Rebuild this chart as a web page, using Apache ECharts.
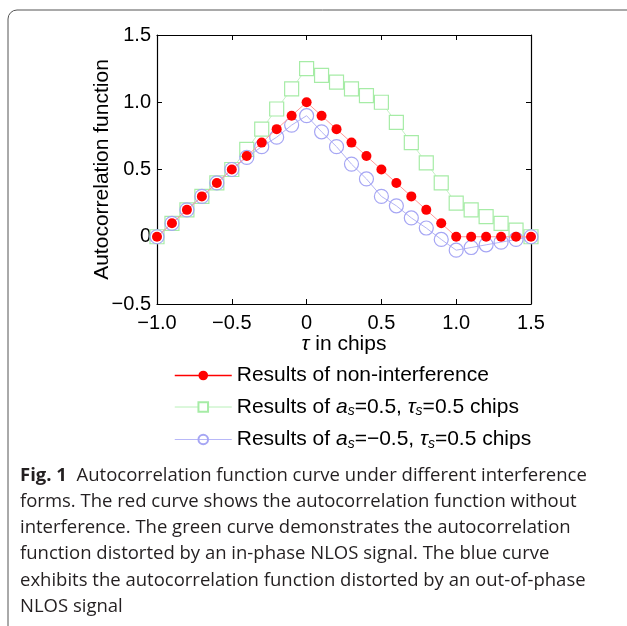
<!DOCTYPE html>
<html>
<head>
<meta charset="utf-8">
<script src="https://cdn.jsdelivr.net/npm/echarts@6/dist/echarts.min.js"></script>
<style>
  html, body { margin: 0; padding: 0; background: #fff; }
  #chart { width: 627px; height: 626px; }
</style>
</head>
<body>
<div id="chart"></div>
<script>
// Delay tau (chips), sampled every 0.1 chip
const tau = [-1.0, -0.9, -0.8, -0.7, -0.6, -0.5, -0.4, -0.3, -0.2, -0.1, 0.0,
             0.1, 0.2, 0.3, 0.4, 0.5, 0.6, 0.7, 0.8, 0.9, 1.0, 1.1, 1.2, 1.3, 1.4, 1.5];

// Autocorrelation without interference
const noInterference = [0, 0.1, 0.2, 0.3, 0.4, 0.5, 0.6, 0.7, 0.8, 0.9, 1.0,
                        0.9, 0.8, 0.7, 0.6, 0.5, 0.4, 0.3, 0.2, 0.1, 0, 0, 0, 0, 0, 0];

// In-phase NLOS (a_s = 0.5, tau_s = 0.5 chips)
const inPhase = [0, 0.1, 0.2, 0.3, 0.4, 0.5, 0.65, 0.8, 0.95, 1.1, 1.25,
                 1.2, 1.15, 1.1, 1.05, 1.0, 0.85, 0.7, 0.55, 0.4, 0.25, 0.2, 0.15, 0.1, 0.05, 0];

// Out-of-phase NLOS (a_s = -0.5, tau_s = 0.5 chips)
const outOfPhase = [0, 0.1, 0.2, 0.3, 0.4, 0.5, 0.59, 0.67, 0.74, 0.83, 0.9,
                    0.78, 0.67, 0.54, 0.43, 0.3, 0.23, 0.14, 0.065, -0.02, -0.1, -0.08, -0.06, -0.04, -0.02, 0];

const xTicks = [-1.0, -0.5, 0, 0.5, 1.0, 1.5];
const yTicks = [-0.5, 0, 0.5, 1.0, 1.5];

const seriesNames = ['Results of non-interference', 'Results of a_s=0.5', 'Results of a_s=-0.5'];

const captionLines = [
  '{b|Fig. 1}  Autocorrelation function curve under different interference',
  'forms. The red curve shows the autocorrelation function without',
  'interference. The green curve demonstrates the autocorrelation',
  'function distorted by an in-phase NLOS signal. The blue curve',
  'exhibits the autocorrelation function distorted by an out-of-phase',
  'NLOS signal'
];

const pair = (ys) => tau.map((t, i) => [t, ys[i]]);
const fmtTick = (v) => {
  if (Math.abs(v) < 1e-9) return '0';
  const s = Math.abs(v).toFixed(1);
  return v < 0 ? '\u2212' + s : s;
};

const plotFont = 'Liberation Sans, Arial, sans-serif';
const capFont = 'Open Sans, Noto Sans, sans-serif';
const capSize = 18.5;

const chart = echarts.init(document.getElementById('chart'), null, { renderer: 'canvas' });

const grid = { left: 157, top: 35, width: 374, height: 269 };

const axisCommon = {
  type: 'value',
  splitLine: { show: false },
  axisLine: { show: true, onZero: false, lineStyle: { color: '#000', width: 1.2 } },
  axisTick: { show: true, inside: true, length: 5, lineStyle: { color: '#000' } }
};

const legendLabel = {
  'Results of non-interference': 'Results of non-interference',
  'Results of a_s=0.5': 'Results of {i|a}{s|s}=0.5, {i|\u03c4}{s|s}=0.5 chips',
  'Results of a_s=-0.5': 'Results of {i|a}{s|s}=\u22120.5, {i|\u03c4}{s|s}=0.5 chips'
};

const captionGraphics = captionLines.map((line, k) => ({
  type: 'text',
  left: 20,
  top: 466 + k * 26.2,
  style: {
    text: line,
    font: capSize + 'px ' + capFont,
    fill: '#231f20',
    rich: {
      b: { font: 'bold ' + capSize + 'px ' + capFont, fill: '#231f20' }
    }
  }
}));

chart.setOption({
  animation: false,
  backgroundColor: '#fff',
  grid: grid,
  xAxis: [
    Object.assign({}, axisCommon, {
      position: 'bottom', min: -1, max: 1.5, interval: 0.5,
      name: '{i|\u03c4} in chips',
      nameLocation: 'middle', nameGap: 30,
      nameMoveOverlap: false,
      nameTextStyle: {
        fontFamily: plotFont, fontSize: 21, color: '#000',
        rich: { i: { fontFamily: plotFont, fontSize: 21, fontStyle: 'italic', color: '#000' } }
      },
      axisLabel: { fontFamily: plotFont, fontSize: 20, color: '#000', margin: 9, formatter: fmtTick }
    }),
    Object.assign({}, axisCommon, {
      position: 'top', min: -1, max: 1.5, interval: 0.5,
      axisLabel: { show: false }
    })
  ],
  yAxis: [
    Object.assign({}, axisCommon, {
      position: 'left', min: -0.5, max: 1.5, interval: 0.5,
      name: 'Autocorrelation function',
      nameLocation: 'middle', nameGap: 44,
      nameMoveOverlap: false,
      nameTextStyle: { fontFamily: plotFont, fontSize: 21, color: '#000' },
      axisLabel: { fontFamily: plotFont, fontSize: 20, color: '#000', margin: 6, formatter: fmtTick }
    }),
    Object.assign({}, axisCommon, {
      position: 'right', min: -0.5, max: 1.5, interval: 0.5,
      axisLabel: { show: false }
    })
  ],
  legend: {
    orient: 'vertical',
    left: 169,
    top: 360,
    itemWidth: 57,
    itemHeight: 12,
    itemGap: 10.5,
    textStyle: {
      fontFamily: plotFont, fontSize: 21, color: '#000',
      rich: {
        i: { fontFamily: plotFont, fontSize: 21, fontStyle: 'italic', color: '#000' },
        s: { fontFamily: plotFont, fontSize: 14, fontStyle: 'italic', color: '#000', verticalAlign: 'bottom', padding: [9, 0, 0, 0] }
      }
    },
    formatter: (name) => legendLabel[name],
    data: [
      { name: seriesNames[0], lineStyle: { color: '#ff0000', width: 1.5, opacity: 1 } },
      { name: seriesNames[1], lineStyle: { color: '#b8f0b8', width: 1 } },
      { name: seriesNames[2], lineStyle: { color: '#b8b8f8', width: 1 } }
    ]
  },
  series: [
    {
      name: seriesNames[1],
      type: 'line',
      data: pair(inPhase),
      symbol: 'rect',
      symbolSize: 14,
      itemStyle: { color: '#fff', borderColor: '#a6eca6', borderWidth: 1.2 },
      lineStyle: { color: '#c4f2c4', width: 1 },
      z: 2
    },
    {
      name: seriesNames[2],
      type: 'line',
      data: pair(outOfPhase),
      symbol: 'circle',
      symbolSize: 14,
      itemStyle: { color: 'rgba(255,255,255,0)', borderColor: '#a6a6f4', borderWidth: 1.2 },
      lineStyle: { color: '#b4b4f4', width: 1 },
      z: 3
    },
    {
      name: seriesNames[0],
      type: 'line',
      data: pair(noInterference),
      symbol: 'circle',
      symbolSize: 10,
      itemStyle: { color: '#ff0000', borderColor: '#ff0000', borderWidth: 0 },
      lineStyle: { color: '#ff9a9a', width: 1 },
      z: 4
    }
  ],
  graphic: [
    {
      type: 'rect',
      shape: { x: 8, y: 10, width: 640, height: 640, r: 9 },
      style: { fill: 'none', stroke: '#555', lineWidth: 1 },
      silent: true
    }
  ].concat(captionGraphics)
});
</script>
</body>
</html>
